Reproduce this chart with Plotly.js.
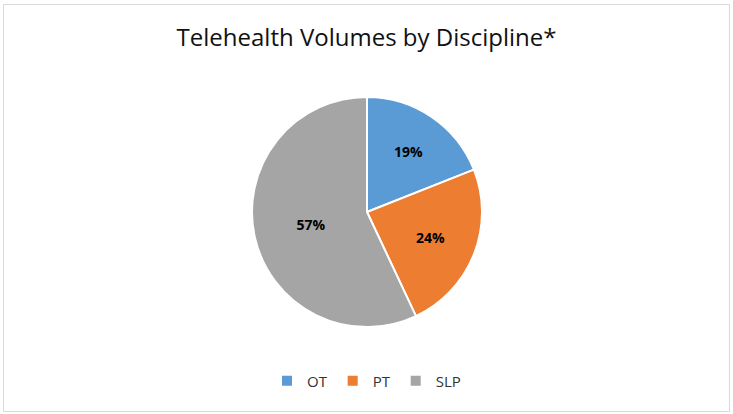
<!DOCTYPE html>
<html>
<head>
<meta charset="utf-8">
<script src="https://cdn.plot.ly/plotly-3.0.1.min.js"></script>
<style>
html,body{margin:0;padding:0;background:#fff;}
#chart{width:733px;height:414px;}
</style>
</head>
<body>
<div id="chart"></div>
<script>
const labels = ["OT", "PT", "SLP"];
const values = [19, 24, 57];
const colors = ["#5B9BD5", "#ED7D31", "#A5A5A5"];
const chartTitle = "Telehealth Volumes by Discipline*";

const W = 733, H = 414;
const cx = 367, cy = 212, r = 115;

const trace = {
  type: "pie",
  labels: labels,
  values: values,
  sort: false,
  direction: "clockwise",
  rotation: 0,
  marker: {colors: colors, line: {color: "#ffffff", width: 2}},
  textinfo: "percent",
  texttemplate: "%{percent:.0%}",
  textposition: "inside",
  insidetextorientation: "horizontal",
  textfont: {family: "Open Sans, DejaVu Sans, sans-serif", size: 14, color: "#000000", weight: "bold"},
  hoverinfo: "label+percent",
  domain: {
    x: [(cx - r) / W, (cx + r) / W],
    y: [(H - cy - r) / H, (H - cy + r) / H]
  }
};

const layout = {
  width: W,
  height: H,
  margin: {l: 0, r: 0, t: 0, b: 0},
  paper_bgcolor: "#ffffff",
  title: {
    text: chartTitle,
    x: 0.5, xanchor: "center",
    y: (H - 38) / H, yanchor: "middle",
    font: {family: "Open Sans, DejaVu Sans, sans-serif", size: 24, color: "#111111"}
  },
  showlegend: true,
  legend: {
    orientation: "h",
    x: 0.5, xanchor: "center",
    y: (H - 381) / H, yanchor: "middle",
    font: {family: "Open Sans, DejaVu Sans, sans-serif", size: 15, color: "#333333"},
    itemwidth: 30,
    traceorder: "normal"
  },
  shapes: [{
    type: "rect", xref: "paper", yref: "paper",
    x0: 3.5 / W, x1: 729.5 / W, y0: 2.5 / H, y1: (H - 4.5) / H,
    line: {color: "#d9d9d9", width: 1},
    fillcolor: "rgba(0,0,0,0)", layer: "below"
  }]
};

Plotly.newPlot("chart", [trace], layout, {displayModeBar: false, staticPlot: true});
</script>
</body>
</html>
